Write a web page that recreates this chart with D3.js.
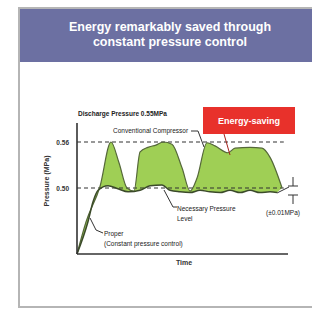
<!DOCTYPE html>
<html>
<head>
<meta charset="utf-8">
<script src="https://cdn.jsdelivr.net/npm/d3@7"></script>
<style>
  body { margin: 0; background: #fff; }
  text { font-family: "Liberation Sans", Arial, sans-serif; }
</style>
</head>
<body>
<svg id="chart" width="312" height="312"></svg>
<script>
// Conventional compressor pressure over time
var convTime     = [0, 4.3, 10.9, 16.1, 19.9, 23.7, 27.0, 29.9, 33.6, 37.4, 40.8, 45.0, 49.8, 53.6, 56.9, 61.6, 65.4, 71.6, 74.9, 82.0, 87.7, 91.5, 97.2];
var convPressure = [0.414, 0.456, 0.502, 0.560, 0.533, 0.500, 0.496, 0.547, 0.553, 0.556, 0.560, 0.557, 0.526, 0.496, 0.513, 0.559, 0.555, 0.546, 0.552, 0.553, 0.552, 0.540, 0.500];

// Constant pressure control
var propTime     = [0, 5.2, 7.6, 10.0, 14.7, 19.4, 24.2, 29.9, 34.6, 40.3, 44.1, 48.8, 53.6, 58.3, 63.0, 67.8, 72.5, 77.3, 82.0, 86.7, 91.5, 94.8];
var propPressure = [0.414, 0.456, 0.482, 0.497, 0.503, 0.499, 0.495, 0.497, 0.503, 0.504, 0.497, 0.495, 0.494, 0.497, 0.495, 0.494, 0.497, 0.494, 0.497, 0.494, 0.495, 0.494];

// Reference levels and their tick labels
var levels      = [0.56, 0.50];
var levelLabels = ["0.56", "0.50"];

var titleLines = ["Energy remarkably saved through", "constant pressure control"];

var svg = d3.select("#chart");

var x = d3.scaleLinear().domain([0, 100]).range([77, 288]);
var y = d3.scaleLinear().domain([0.50, 0.56]).range([188, 142]);

var conv = convTime.map(function(t, i) { return [t, convPressure[i]]; });
var prop = propTime.map(function(t, i) { return [t, propPressure[i]]; });

// Card frame
svg.append("rect").attr("x", 19).attr("y", 8).attr("width", 300).attr("height", 299)
  .attr("fill", "#fff").attr("stroke", "#b5b5b5").attr("stroke-width", 2);

// Header band
svg.append("rect").attr("x", 20).attr("y", 9).attr("width", 292).attr("height", 53)
  .attr("fill", "#6c70a2");
svg.append("g").selectAll("text").data(titleLines).enter()
  .append("text")
  .attr("x", 170)
  .attr("y", function(d, i) { return 31 + i * 15; })
  .attr("text-anchor", "middle")
  .attr("fill", "#fff")
  .attr("font-size", 12.5)
  .attr("font-weight", "bold")
  .text(function(d) { return d; });

var line = d3.line()
  .x(function(d) { return x(d[0]); })
  .y(function(d) { return y(d[1]); })
  .curve(d3.curveMonotoneX);

// Green saving area between the two curves
var propRev = prop.slice().reverse();
svg.append("path")
  .attr("d", line(conv) + "L" + line(propRev).slice(1) + "Z")
  .attr("fill", "#9fcf55")
  .attr("stroke", "none");

// Dashed reference levels
svg.append("g").selectAll("line").data(levels).enter()
  .append("line")
  .attr("x1", x(0)).attr("x2", x(98))
  .attr("y1", function(d) { return y(d); })
  .attr("y2", function(d) { return y(d); })
  .attr("stroke", "#333")
  .attr("stroke-width", 1.2)
  .attr("stroke-dasharray", "4,3");

svg.append("g").selectAll("text").data(levels).enter()
  .append("text")
  .attr("x", 69)
  .attr("y", function(d) { return y(d) + 2.5; })
  .attr("text-anchor", "end")
  .attr("font-size", 6.5)
  .attr("font-weight", "bold")
  .attr("fill", "#333")
  .text(function(d, i) { return levelLabels[i]; });

// Curves
svg.append("path").attr("d", line(conv))
  .attr("fill", "none").attr("stroke", "#55683a").attr("stroke-width", 1.2);
svg.append("path").attr("d", line(prop))
  .attr("fill", "none").attr("stroke", "#3b4a2a").attr("stroke-width", 1.5);

// Axes
svg.append("line").attr("x1", 77).attr("y1", 123).attr("x2", 77).attr("y2", 254)
  .attr("stroke", "#333").attr("stroke-width", 1.6);
svg.append("line").attr("x1", 77).attr("y1", 254).attr("x2", 288).attr("y2", 254)
  .attr("stroke", "#333").attr("stroke-width", 1.6);

svg.append("text").attr("x", 184).attr("y", 265).attr("text-anchor", "middle")
  .attr("font-size", 7).attr("font-weight", "bold").attr("fill", "#333").text("Time");
svg.append("text").attr("transform", "translate(49,181) rotate(-90)")
  .attr("text-anchor", "middle").attr("font-size", 7).attr("font-weight", "bold")
  .attr("fill", "#333").text("Pressure (MPa)");

// Annotations
var small = function(tx, ty, s, bold) {
  svg.append("text").attr("x", tx).attr("y", ty).attr("font-size", 6.5)
    .attr("font-weight", bold ? "bold" : "normal").attr("fill", "#222").text(s);
};
var leader = function(pts, col) {
  svg.append("path").attr("d", d3.line()(pts)).attr("fill", "none")
    .attr("stroke", col || "#333").attr("stroke-width", 1);
};

small(78, 116, "Discharge Pressure 0.55MPa", true);
small(113, 133, "Conventional Compressor");
leader([[191, 131], [198, 131], [204, 147]]);

small(177, 211, "Necessary Pressure");
small(177, 221, "Level");
leader([[164, 190], [173, 207], [177, 207]]);

small(104, 236, "Proper");
small(104, 246, "(Constant pressure control)");
leader([[90, 218], [96, 230], [103, 233]]);

// Tolerance marker
leader([[293, 177], [293, 186]]);
leader([[288, 186], [298, 186]]);
leader([[288, 195], [298, 195]]);
leader([[293, 195], [293, 204]]);
leader([[277, 193], [289, 187]]);
small(266, 215, "(±0.01MPa)");

// Energy-saving callout
svg.append("rect").attr("x", 203).attr("y", 107).attr("width", 92).attr("height", 27)
  .attr("fill", "#e8312b");
svg.append("text").attr("x", 249).attr("y", 124).attr("text-anchor", "middle")
  .attr("font-size", 9).attr("font-weight", "bold").attr("fill", "#fff").text("Energy-saving");
leader([[224, 134], [230, 155]], "#a3221c");
</script>
</body>
</html>
